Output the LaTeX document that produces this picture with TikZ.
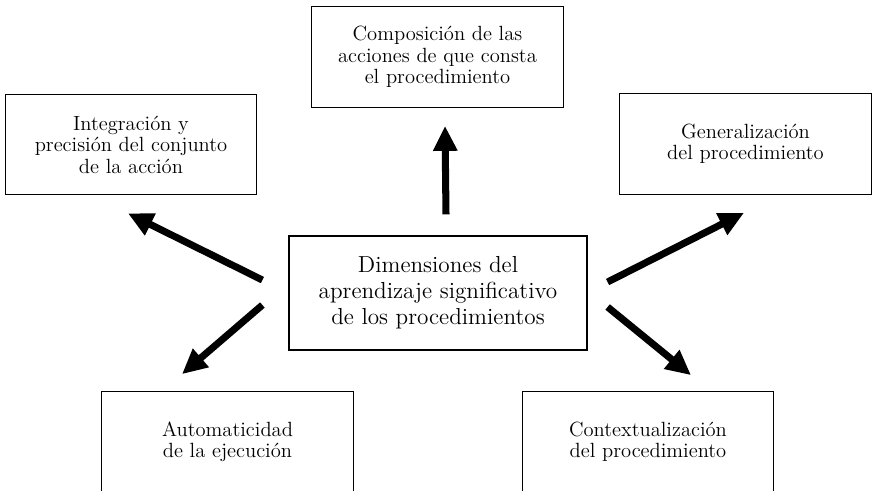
\documentclass[tikz,border=0pt]{standalone}
\usepackage{tikz}
\usetikzlibrary{arrows.meta,positioning}

\begin{document}
\begin{tikzpicture}[
  dimbox/.style={rectangle, draw, line width=0.7pt, minimum width=5.03cm, minimum height=2.01cm, align=center, font=\fontsize{11.7}{12.2}\selectfont},
  corebox/.style={rectangle, draw, line width=0.7pt, minimum width=5.96cm, minimum height=2.28cm, align=center, font=\fontsize{13.2}{14.8}\selectfont},
  bigarrow/.style={line width=4pt, -{Triangle[length=0.5cm, width=0.46cm]}},
]
\clip (0,0) rectangle (17.48,-9.8);
\fill[white] (0,0) rectangle (17.48,-9.8);

% Centre box
\node[corebox] (dim) at (8.76,-5.86) {Dimensiones del\\aprendizaje significativo\\de los procedimientos};

% Dimensions -- top row
\node[dimbox] (comp) at (8.75,-1.14) {Composición de las\\acciones de que consta\\el procedimiento};
\node[dimbox] (integ) at (2.62,-2.89) {Integración y\\precisión del conjunto\\de la acción};
\node[dimbox] (gen) at (14.91,-2.88) {Generalización\\del procedimiento};

% Dimensions -- bottom row (cut by the page edge)
\node[dimbox] (auto) at (4.55,-8.84) {Automaticidad\\de la ejecución};
\node[dimbox] (ctx) at (12.96,-8.84) {Contextualización\\del procedimiento};

% Arrows
\draw[bigarrow] ([shift={(0.16,0.42)}]dim.north) -- ([shift={(0.15,-0.36)}]comp.south);
\draw[bigarrow] ([shift={(-0.52,0.26)}]dim.west) -- ([shift={(-0.06,-0.36)}]integ.south);
\draw[bigarrow] ([shift={(0.4,0.22)}]dim.east) -- ([shift={(-0.03,-0.36)}]gen.south);
\draw[bigarrow] ([shift={(-0.52,-0.24)}]dim.west) -- ([shift={(-0.91,0.34)}]auto.north);
\draw[bigarrow] ([shift={(0.4,-0.28)}]dim.east) -- ([shift={(0.86,0.32)}]ctx.north);

\end{tikzpicture}
\end{document}
